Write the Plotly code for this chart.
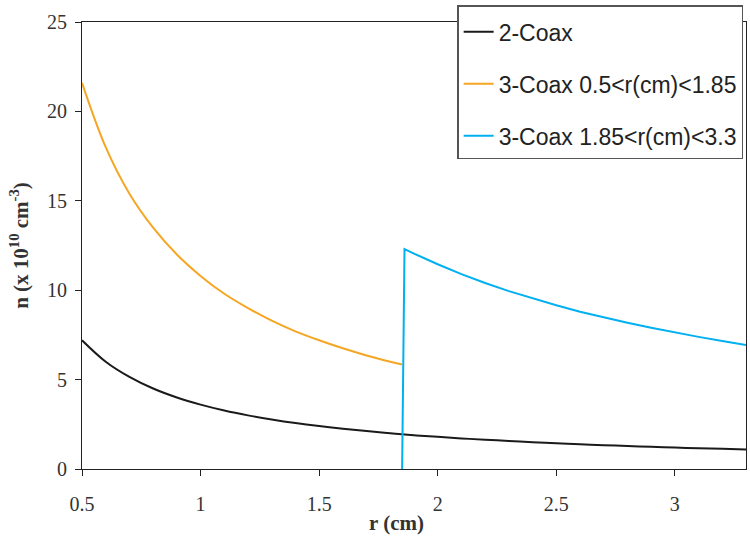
import plotly.graph_objects as go

# r values (cm)
r_two = [0.5, 0.6, 0.7, 0.8, 0.9, 1.0, 1.1, 1.2, 1.3, 1.4, 1.5, 1.6, 1.7, 1.8, 1.9,
         2.0, 2.1, 2.2, 2.3, 2.4, 2.5, 2.6, 2.7, 2.8, 2.9, 3.0, 3.1, 3.2, 3.3]
n_two = [7.2, 6.0, 5.15, 4.5, 4.0, 3.6, 3.27, 3.0, 2.77, 2.57, 2.4, 2.25, 2.12, 2.0, 1.89,
         1.8, 1.71, 1.64, 1.57, 1.5, 1.44, 1.38, 1.33, 1.29, 1.24, 1.2, 1.16, 1.13, 1.09]

r_inner = [0.5, 0.6, 0.7, 0.8, 0.9, 1.0, 1.1, 1.2, 1.3, 1.4, 1.5, 1.6, 1.7, 1.8, 1.85]
n_inner = [21.6, 18.0, 15.4, 13.5, 12.0, 10.8, 9.8, 9.0, 8.3, 7.7, 7.2, 6.75, 6.35, 6.0, 5.84]

r_outer = [1.85, 1.86, 1.9, 2.0, 2.1, 2.2, 2.3, 2.4, 2.5, 2.6, 2.7, 2.8, 2.9, 3.0, 3.1, 3.2, 3.3]
n_outer = [0.0, 12.3, 12.05, 11.45, 10.9, 10.4, 9.95, 9.54, 9.16, 8.8, 8.48, 8.18, 7.9, 7.63, 7.39, 7.16, 6.94]

names = ["2-Coax", "3-Coax 0.5<r(cm)<1.85", "3-Coax 1.85<r(cm)<3.3"]
colors = ["#1a1a1a", "#F5A623", "#00B0F0"]
shapes = ["spline", "spline", "linear"]

x_title = "r (cm)"
y_title = "n (x 10<sup>10</sup> cm<sup>-3</sup>)"

fig = go.Figure()
for i, (x, y) in enumerate([(r_two, n_two), (r_inner, n_inner), (r_outer, n_outer)]):
    fig.add_trace(go.Scatter(x=x, y=y, mode="lines", name=names[i],
                             legendgroup=str(i),
                             line=dict(color=colors[i], width=2, shape=shapes[i])))

serif = "Liberation Serif, Times New Roman, serif"
fig.update_layout(
    width=750, height=538,
    margin=dict(l=82, r=4, t=22, b=69),
    paper_bgcolor="white", plot_bgcolor="white",
    showlegend=True,
    legend=dict(x=0.565, y=1.038, xanchor="left", yanchor="top",
                bgcolor="white", bordercolor="#555555", borderwidth=1.5,
                title=dict(text=" ", font=dict(size=3)),
                font=dict(family="Liberation Sans, Arial, sans-serif", size=23, color="#222222"),
                tracegroupgap=19, itemwidth=30),
    xaxis=dict(range=[0.5, 3.3], tickvals=[0.5, 1, 1.5, 2, 2.5, 3],
               ticktext=["0.5", "1", "1.5", "2", "2.5", "3"],
               showgrid=False, zeroline=False, showline=True, linecolor="#222222",
               linewidth=1, mirror=True, ticks="outside", ticklen=6, tickcolor="#222222",
               ticklabelstandoff=11,
               tickfont=dict(family=serif, size=20, color="#333333")),
    yaxis=dict(range=[0, 25], tickvals=[0, 5, 10, 15, 20, 25],
               showgrid=False, zeroline=False, showline=True, linecolor="#222222",
               linewidth=1, mirror=True, ticks="outside", ticklen=6, tickcolor="#222222",
               ticklabelstandoff=4,
               tickfont=dict(family=serif, size=20, color="#333333"),
               title=dict(text="<b>" + y_title + "</b>",
                          font=dict(family=serif, size=21, color="#333333"), standoff=12)),
    annotations=[dict(text="<b>" + x_title + "</b>", xref="paper", yref="paper",
                      x=0.474, y=-0.121, xanchor="center", yanchor="middle",
                      showarrow=False, font=dict(family=serif, size=21, color="#333333"))],
)

fig.write_html("out.html")
